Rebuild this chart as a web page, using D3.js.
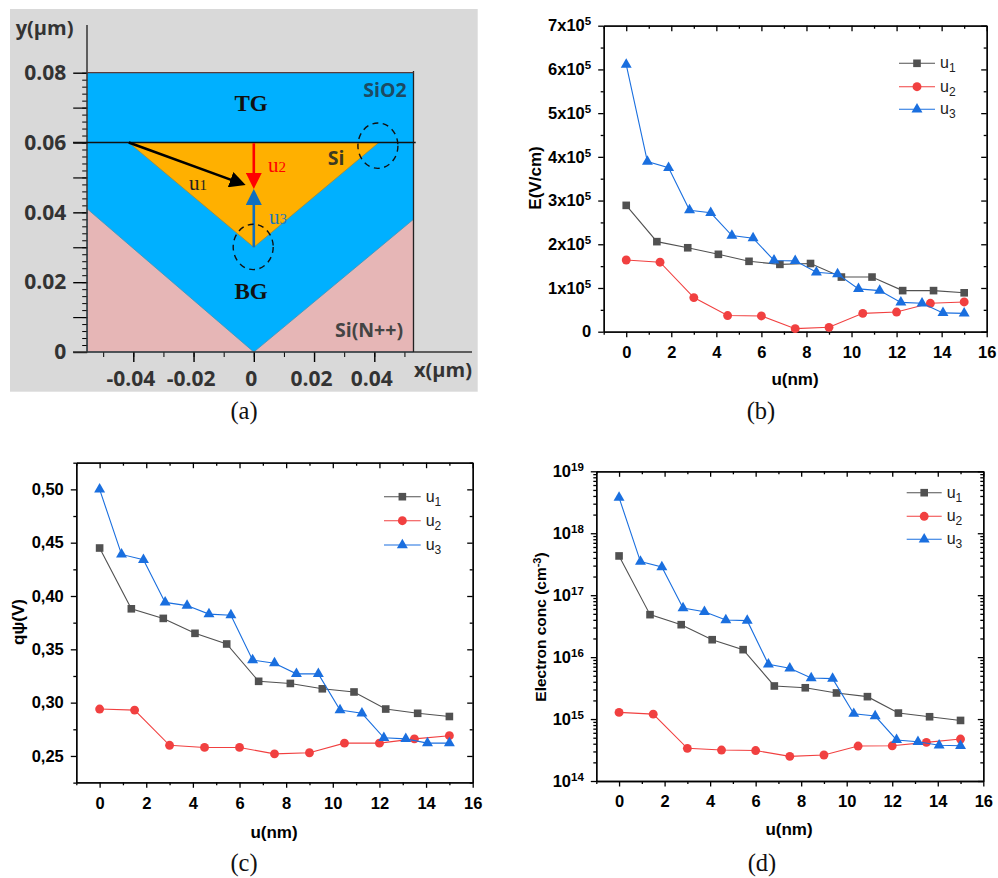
<!DOCTYPE html>
<html>
<head>
<meta charset="utf-8">
<script src="https://d3js.org/d3.v7.min.js"></script>
<style>
body { margin: 0; background: #fff; }
text { font-family: "Liberation Sans", Arial, sans-serif; }
.tick line, .domain { stroke: #000; }
</style>
</head>
<body>
<svg id="fig" width="998" height="878"></svg>
<script>
// x positions along each cut line (nm)
var u1_x = [0, 1.36, 2.73, 4.09, 5.45, 6.82, 8.18, 9.55, 10.91, 12.27, 13.64, 15];
var u2_x = [0, 1.5, 3, 4.5, 6, 7.5, 9, 10.5, 12, 13.5, 15];
var u3_x = [0, 0.94, 1.88, 2.81, 3.75, 4.69, 5.63, 6.56, 7.5, 8.44, 9.38, 10.31, 11.25, 12.19, 13.13, 14.06, 15];

// (b) field
var E_u1 = [2.89e5, 2.06e5, 1.92e5, 1.77e5, 1.61e5, 1.54e5, 1.56e5, 1.25e5, 1.25e5, 0.94e5, 0.94e5, 0.89e5];
var E_u2 = [1.64e5, 1.59e5, 0.78e5, 0.37e5, 0.36e5, 0.07e5, 0.10e5, 0.42e5, 0.45e5, 0.65e5, 0.68e5];
var E_u3 = [6.11e5, 3.89e5, 3.75e5, 2.78e5, 2.72e5, 2.20e5, 2.14e5, 1.63e5, 1.62e5, 1.36e5, 1.32e5, 0.98e5, 0.94e5, 0.67e5, 0.65e5, 0.43e5, 0.42e5];

// (c) potential
var psi_u1 = [0.445, 0.388, 0.379, 0.365, 0.355, 0.320, 0.318, 0.313, 0.310, 0.294, 0.290, 0.287];
var psi_u2 = [0.294, 0.293, 0.260, 0.258, 0.258, 0.252, 0.253, 0.262, 0.262, 0.266, 0.269];
var psi_u3 = [0.500, 0.439, 0.434, 0.394, 0.391, 0.383, 0.382, 0.340, 0.337, 0.327, 0.327, 0.293, 0.290, 0.267, 0.266, 0.262, 0.262];

// (d) electron concentration
var n_u1 = [4.3e17, 4.85e16, 3.34e16, 1.91e16, 1.32e16, 3.42e15, 3.2e15, 2.64e15, 2.3e15, 1.25e15, 1.09e15, 9.5e14];
var n_u2 = [1.28e15, 1.2e15, 3.37e14, 3.16e14, 3.1e14, 2.5e14, 2.63e14, 3.67e14, 3.7e14, 4.2e14, 4.76e14];
var n_u3 = [3.76e18, 3.48e17, 2.85e17, 6.2e16, 5.4e16, 3.98e16, 3.88e16, 7.65e15, 6.6e15, 4.6e15, 4.49e15, 1.22e15, 1.12e15, 4.6e14, 4.3e14, 3.77e14, 3.7e14];

var x_major = [0, 2, 4, 6, 8, 10, 12, 14, 16];
var x_minor = [-1, 1, 3, 5, 7, 9, 11, 13, 15];
var E_major = [0, 1e5, 2e5, 3e5, 4e5, 5e5, 6e5, 7e5];
var E_minor = [0.5e5, 1.5e5, 2.5e5, 3.5e5, 4.5e5, 5.5e5, 6.5e5];
var psi_major = [0.25, 0.30, 0.35, 0.40, 0.45, 0.50];
var psi_minor = [0.225, 0.275, 0.325, 0.375, 0.425, 0.475, 0.525];
var n_major = [1e14, 1e15, 1e16, 1e17, 1e18, 1e19];
var n_minor = [];
n_major.slice(0, 5).forEach(function(d) {
  [2, 3, 4, 5, 6, 7, 8, 9].forEach(function(m) { n_minor.push(d * m); });
});

var col_u1 = "#515151", col_u2 = "#f14040", col_u3 = "#1a6fdf";
var svg = d3.select("#fig");

function sup(sel, base, exp) {
  sel.text(null);
  sel.append("tspan").text(base);
  sel.append("tspan").attr("dy", -6).attr("font-size", "11.5px").text(exp);
}

function drawPlot(o) {
  var x = d3.scaleLinear().domain([-1, 16]).range([o.left, o.right]);
  var y = o.y.range([o.bottom, o.top]);
  var g = svg.append("g");

  function ax(fn, scale, vals, size, tr) {
    return g.append("g").attr("transform", tr)
      .call(fn(scale).tickValues(vals).tickSize(size).tickSizeOuter(0).tickFormat(""))
      .call(function(s) { s.selectAll("line, path").attr("stroke-width", 1.3); });
  }
  var tb = "translate(0," + o.bottom + ")", tt = "translate(0," + o.top + ")";
  var tl = "translate(" + o.left + ",0)", tr = "translate(" + o.right + ",0)";

  // mirror ticks point inward, the bottom and left ones outward
  ax(d3.axisTop, x, x_major, -5.5, tt);
  ax(d3.axisTop, x, x_minor, -3, tt);
  ax(d3.axisRight, y, o.major, -5.5, tr);
  ax(d3.axisRight, y, o.minor, -3, tr);
  ax(d3.axisBottom, x, x_minor, 3, tb);
  ax(d3.axisLeft, y, o.minor, 3, tl);

  var xAxis = g.append("g").attr("transform", tb)
    .call(d3.axisBottom(x).tickValues(x_major).tickSize(5.5).tickPadding(9).tickSizeOuter(0));
  var yAxis = g.append("g").attr("transform", tl)
    .call(d3.axisLeft(y).tickValues(o.major).tickSize(5.5).tickPadding(7).tickSizeOuter(0));
  [xAxis, yAxis].forEach(function(a) {
    a.selectAll("line, path").attr("stroke-width", 1.3);
    a.selectAll("text").attr("font-size", "16.5px").attr("font-weight", "bold")
      .attr("font-family", "'Liberation Sans'").attr("fill", "#000");
  });
  yAxis.selectAll("text").each(function(d) { o.label(d3.select(this), d); });

  var series = [
    {xs: u1_x, ys: o.s1, c: col_u1, sym: d3.symbolSquare, size: 58, name: "1"},
    {xs: u2_x, ys: o.s2, c: col_u2, sym: d3.symbolCircle, size: 62, name: "2"},
    {xs: u3_x, ys: o.s3, c: col_u3, sym: d3.symbolTriangle, size: 52, name: "3"}
  ];
  var line = d3.line().x(function(d) { return x(d[0]); }).y(function(d) { return y(d[1]); });

  series.forEach(function(s, k) {
    var pts = d3.zip(s.xs, s.ys);
    g.append("path").datum(pts).attr("d", line)
      .attr("fill", "none").attr("stroke", s.c).attr("stroke-width", 1.1);
    g.selectAll(null).data(pts).enter().append("path")
      .attr("d", d3.symbol().type(s.sym).size(s.size))
      .attr("transform", function(d) { return "translate(" + x(d[0]) + "," + y(d[1]) + ")"; })
      .attr("fill", s.c);

    // legend
    var ly = o.legY[k];
    g.append("line").attr("x1", o.legX[0]).attr("x2", o.legX[1]).attr("y1", ly).attr("y2", ly)
      .attr("stroke", s.c).attr("stroke-width", 1.1);
    g.append("path").attr("d", d3.symbol().type(s.sym).size(s.size))
      .attr("transform", "translate(" + (o.legX[0] + o.legX[1]) / 2 + "," + ly + ")").attr("fill", s.c);
    var t = g.append("text").attr("x", o.legX[1] + 5).attr("y", ly + 5)
      .attr("font-size", "16px").attr("fill", "#222");
    t.append("tspan").text("u");
    t.append("tspan").attr("dy", 4).attr("font-size", "12px").text(s.name);
  });

  g.append("text").attr("x", o.xLab[0]).attr("y", o.xLab[1]).attr("text-anchor", "middle")
    .attr("font-size", "17px").attr("font-weight", "bold").text("u(nm)");
  var yl = g.append("text").attr("text-anchor", "middle").attr("font-size", o.yFont).attr("font-weight", "bold")
    .attr("transform", "translate(" + o.yLab[0] + "," + o.yLab[1] + ") rotate(-90)");
  o.yTitle(yl);
}

drawPlot({
  left: 603.7, right: 986.7, top: 25.7, bottom: 331.7,
  y: d3.scaleLinear().domain([0, 7e5]), major: E_major, minor: E_minor,
  s1: E_u1, s2: E_u2, s3: E_u3,
  label: function(t, d) { if (d === 0) t.text("0"); else sup(t, (d / 1e5) + "x10", "5"); },
  legX: [899, 935], legY: [63.3, 86.7, 109.3],
  xLab: [795, 385], yLab: [541, 178], yFont: "17px",
  yTitle: function(t) { t.text("E(V/cm)"); }
});

drawPlot({
  left: 76.3, right: 472.7, top: 462.7, bottom: 782.3,
  y: d3.scaleLinear().domain([0.2253, 0.525]), major: psi_major, minor: psi_minor,
  s1: psi_u1, s2: psi_u2, s3: psi_u3,
  label: function(t, d) { t.text(d3.format(".2f")(d).replace(".", ",")); },
  legX: [384, 420.7], legY: [496.7, 520.7, 545],
  xLab: [274, 838], yLab: [24, 622], yFont: "17px",
  yTitle: function(t) { t.text("q\u03c8(V)"); }
});

drawPlot({
  left: 596.3, right: 983.3, top: 471.3, bottom: 781,
  y: d3.scaleLog().domain([1e14, 1e19]), major: n_major, minor: n_minor,
  s1: n_u1, s2: n_u2, s3: n_u3,
  label: function(t, d) { sup(t, "10", String(Math.round(Math.log10(d)))); },
  legX: [906.7, 941.7], legY: [492.7, 516.3, 539.3],
  xLab: [789, 835], yLab: [546, 627], yFont: "15.5px",
  yTitle: function(t) {
    t.append("tspan").text("Electron conc (cm");
    t.append("tspan").attr("dy", -5).attr("font-size", "11px").text("-3");
    t.append("tspan").attr("dy", 5).text(")");
  }
});

// ---- (a) device cross section ----
var x_edges = [-0.0553, 0.053];
var a_xticks = [-0.04, -0.02, 0, 0.02, 0.04];
var a_yticks = [0, 0.02, 0.04, 0.06, 0.08];
var a_ymid = [0.01, 0.03, 0.05, 0.07];
var a_yminor = d3.range(0, 41).map(function(i) { return i * 0.002; });
var a_xminor = d3.range(-5, 6).map(function(i) { return i * 0.01; });
var si_tri = [[-0.0415, 0.06], [0.0415, 0.06], [0, 0.03]];
var pink_l = [[-0.0553, 0], [-0.0553, 0.041], [0, 0]];
var pink_r = [[0.053, 0], [0.053, 0.038], [0, 0]];
var oxide = [[-0.0553, 0], [-0.0553, 0.08], [0.053, 0.08], [0.053, 0]];
var tip_circles = [[0.0412, 0.0591], [-0.0002, 0.0301]];

var xa = d3.scaleLinear().domain([-0.04, 0.04]).range([133.3, 374.3]);
var ya = d3.scaleLinear().domain([0, 0.08]).range([352, 72.7]);
var ga = svg.append("g");
var poly = d3.line().x(function(d) { return xa(d[0]); }).y(function(d) { return ya(d[1]); });

function tickText(d) { return d === 0 ? "0" : d3.format(".2f")(d).replace("\u2212", "-"); }

ga.append("rect").attr("x", 10).attr("y", 9).attr("width", 467.7).attr("height", 382.7).attr("fill", "#d9d9d9");
ga.append("path").attr("d", poly(oxide) + "Z").attr("fill", "#00b0ff");
[pink_l, pink_r].forEach(function(p) {
  ga.append("path").attr("d", poly(p) + "Z").attr("fill", "#e6b6b6").attr("stroke", "#3f93b8").attr("stroke-width", 0.8);
});
ga.append("path").attr("d", poly(si_tri) + "Z").attr("fill", "#ffb000").attr("stroke", "#a08a3c").attr("stroke-width", 0.8);

// minor ticks first so the axis lines sit over them
ga.append("g").attr("transform", "translate(" + xa(x_edges[0]) + ",0)")
  .call(d3.axisLeft(ya).tickValues(a_yminor).tickSize(5).tickFormat("").tickSizeOuter(0))
  .call(function(s) { s.selectAll("line").attr("stroke", "#b5b5b5"); s.select(".domain").remove(); });
ga.append("g").attr("transform", "translate(" + xa(x_edges[0]) + ",0)")
  .call(d3.axisLeft(ya).tickValues(a_ymid).tickSize(14).tickFormat("").tickSizeOuter(0))
  .call(function(s) { s.selectAll("line").attr("stroke", "#444").attr("stroke-width", 1.2); s.select(".domain").remove(); });
ga.append("g").attr("transform", "translate(0," + ya(0) + ")")
  .call(d3.axisBottom(xa).tickValues(a_xminor).tickSize(5).tickFormat("").tickSizeOuter(0))
  .call(function(s) { s.selectAll("line").attr("stroke", "#a5a5a5"); s.select(".domain").remove(); });

var a_left = ga.append("g").attr("transform", "translate(" + xa(x_edges[0]) + ",0)")
  .call(d3.axisLeft(ya).tickValues(a_yticks).tickSize(14).tickPadding(7).tickSizeOuter(0).tickFormat(tickText));
var a_bottom = ga.append("g").attr("transform", "translate(0," + ya(0) + ")")
  .call(d3.axisBottom(xa).tickValues(a_xticks).tickSize(10).tickPadding(9).tickSizeOuter(0).tickFormat(tickText));
[a_left, a_bottom].forEach(function(a) {
  a.select(".domain").remove();
  a.selectAll("line").attr("stroke", "#333").attr("stroke-width", 1.4);
  a.selectAll("text").attr("font-size", "21px").attr("font-weight", 700)
    .style("font-family", "'Open Sans'").attr("fill", "#333");
});
a_bottom.selectAll("text").attr("dx", -3);

// axis lines and the frame
ga.append("line").attr("x1", 87).attr("x2", 87).attr("y1", 25).attr("y2", 352).attr("stroke", "#333").attr("stroke-width", 1.5);
ga.append("line").attr("x1", 73).attr("x2", 472).attr("y1", 352).attr("y2", 352).attr("stroke", "#333").attr("stroke-width", 1.5);
ga.append("line").attr("x1", 413.5).attr("x2", 413.5).attr("y1", 71).attr("y2", 352).attr("stroke", "#222").attr("stroke-width", 1.3);
ga.append("line").attr("x1", 87).attr("x2", 413.5).attr("y1", ya(0.08)).attr("y2", ya(0.08)).attr("stroke", "#5a3a3a").attr("stroke-width", 1.3);
ga.append("line").attr("x1", 73).attr("x2", 415.7).attr("y1", ya(0.06)).attr("y2", ya(0.06)).attr("stroke", "#111").attr("stroke-width", 1.5);

// cut line arrows
var defs = svg.append("defs");
function arrowHead(id, c) {
  defs.append("marker").attr("id", id).attr("markerUnits", "userSpaceOnUse")
    .attr("viewBox", "0 0 16 16").attr("refX", 16).attr("refY", 8)
    .attr("markerWidth", 16).attr("markerHeight", 16).attr("orient", "auto")
    .append("path").attr("d", "M0,0L16,8L0,16Z").attr("fill", c);
}
arrowHead("ah1", "#000"); arrowHead("ah2", "#ff0000"); arrowHead("ah3", "#0f6fc0");
var arrows = [
  {p: [[-0.0415, 0.06], [-0.0027, 0.0478]], c: "#000", m: "ah1"},
  {p: [[0, 0.0598], [0, 0.0467]], c: "#ff0000", m: "ah2"},
  {p: [[0, 0.03], [0, 0.0467]], c: "#0f6fc0", m: "ah3"}
];
arrows.forEach(function(a) {
  // the line stops short of the tip so its square end stays under the head
  var end = [a.p[0][0] + (a.p[1][0] - a.p[0][0]) * 0.9, a.p[0][1] + (a.p[1][1] - a.p[0][1]) * 0.9];
  ga.append("path").attr("d", poly([a.p[0], end])).attr("stroke", a.c).attr("stroke-width", 2.6).attr("fill", "none");
  ga.append("path").attr("d", poly(a.p)).attr("stroke", "none").attr("fill", "none")
    .attr("marker-end", "url(#" + a.m + ")");
});

ga.selectAll(null).data(tip_circles).enter().append("ellipse")
  .attr("cx", function(d) { return xa(d[0]); }).attr("cy", function(d) { return ya(d[1]); })
  .attr("rx", 20).attr("ry", 22.7).attr("fill", "none")
  .attr("stroke", "#111").attr("stroke-width", 1.4).attr("stroke-dasharray", "6,4.5");

function aText(str, px, py, size, opts) {
  return ga.append("text").attr("x", px).attr("y", py).attr("font-size", size + "px")
    .attr("text-anchor", opts.anchor || "middle").attr("font-weight", opts.weight || 700)
    .style("font-family", opts.font || "'Open Sans'").attr("fill", opts.fill || "#333").text(str);
}
var serif = "'Liberation Serif'";
aText("TG", 251, 111, 23, {font: serif, weight: "bold", fill: "#111"});
aText("BG", 251, 299, 23, {font: serif, weight: "bold", fill: "#111"});
aText("SiO2", 385, 97, 19.5, {fill: "#1c4a63"});
aText("Si", 336, 165, 19.5, {fill: "#3d3a22"});
aText("Si(N++)", 369, 337, 19.5, {fill: "#444"});
aText("x(\u03bcm)", 414, 377, 20, {anchor: "start"});
aText("y(\u03bcm)", 15.7, 35, 20, {anchor: "start"});

[["1", 189, 190, "#222"], ["2", 268, 172, "#ff0000"], ["3", 269, 224, "#1f78b4"]].forEach(function(l) {
  var t = aText("u", l[1], l[2], 21, {font: serif, weight: "normal", fill: l[3], anchor: "start"});
  t.append("tspan").attr("font-size", "15px").text(l[0]);
});

// panel captions
[["(a)", 244, 419], ["(b)", 761, 419], ["(c)", 244, 871], ["(d)", 762, 871]].forEach(function(c) {
  svg.append("text").attr("x", c[1]).attr("y", c[2]).attr("text-anchor", "middle")
    .style("font-family", serif).attr("font-size", "24.5px").attr("fill", "#111").text(c[0]);
});
</script>
</body>
</html>
